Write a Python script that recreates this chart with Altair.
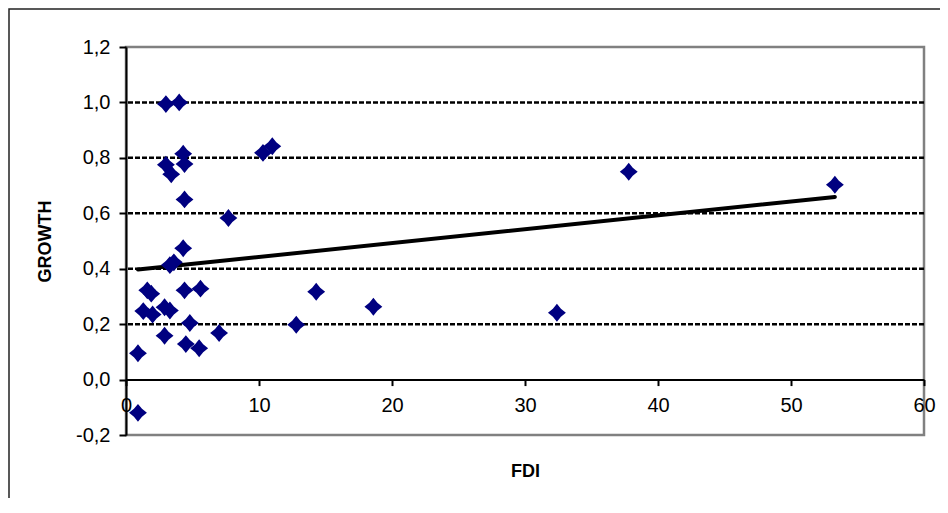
import altair as alt
import pandas as pd

# Data
fdi = [0.9, 0.9, 1.3, 1.6, 1.9, 2.0, 2.9, 3.0, 3.0, 2.9, 3.3, 3.4, 3.3, 3.6,
       4.0, 4.3, 4.4, 4.4, 4.3, 4.4, 4.8, 4.5, 5.5, 5.6, 7.0, 7.7, 10.3, 11.0,
       12.8, 14.3, 18.6, 32.4, 37.8, 53.3]
growth = [-0.12, 0.095, 0.247, 0.322, 0.31, 0.235, 0.158, 0.994, 0.775, 0.261,
          0.249, 0.741, 0.413, 0.423, 1.0, 0.815, 0.778, 0.65, 0.474, 0.322,
          0.204, 0.128, 0.113, 0.328, 0.168, 0.583, 0.818, 0.842, 0.198, 0.317,
          0.263, 0.241, 0.75, 0.703]
trend_x = [0.9, 53.3]
trend_y = [0.397, 0.659]
grid_values = [0.2, 0.4, 0.6, 0.8, 1.0]
y_ticks = [-0.2, 0.0, 0.2, 0.4, 0.6, 0.8, 1.0, 1.2]
x_ticks = [0, 10, 20, 30, 40, 50, 60]

pts = pd.DataFrame({"FDI": fdi, "GROWTH": growth})
trend = pd.DataFrame({"FDI": trend_x, "GROWTH": trend_y})
grid = pd.DataFrame({"GROWTH": grid_values})
one = pd.DataFrame({"a": [0]})

FONT = "Liberation Sans"
xscale = alt.Scale(domain=[0, 60], nice=False, zero=False)
yscale = alt.Scale(domain=[-0.2, 1.2], nice=False, zero=False)

x_axis = alt.Axis(
    values=x_ticks, format="d", offset=-55.43, grid=False,
    domainColor="black", domainWidth=2,
    tickColor="black", tickWidth=2, tickSize=6,
    labelFont=FONT, labelFontSize=20, labelColor="black",
    labelPadding=10, labelFlush=False, labelOverlap=False,
    titleFont=FONT, titleFontSize=18, titleFontWeight="bold",
    titleColor="black", titleY=83, titleBaseline="top",
)
y_axis = alt.Axis(
    values=y_ticks, grid=False,
    labelExpr="replace(replace(format(datum.value, '.1f'), '.', ','), '\u2212', '-')",
    domainColor="black", domainWidth=2,
    tickColor="black", tickWidth=2, tickSize=7,
    labelFont=FONT, labelFontSize=20, labelColor="black",
    labelPadding=9, labelOverlap=False, labelFlush=False,
    titleFont=FONT, titleFontSize=18, titleFontWeight="bold",
    titleColor="black", titleX=-72, titleY=194,
)

border = alt.Chart(one).mark_rect(
    fillOpacity=0, stroke="#222222", strokeWidth=1.5
).encode(
    x=alt.value(-117), x2=alt.value(900), y=alt.value(-38), y2=alt.value(520)
)

gridlines = alt.Chart(grid).mark_rule(
    color="black", strokeWidth=2.5, strokeDash=[5, 2]
).encode(y=alt.Y("GROWTH:Q", scale=yscale, title="GROWTH", axis=y_axis))

trendline = alt.Chart(trend).mark_line(
    color="black", strokeWidth=4, strokeCap="round"
).encode(
    x=alt.X("FDI:Q", scale=xscale, title="FDI", axis=x_axis),
    y=alt.Y("GROWTH:Q", scale=yscale, title="GROWTH", axis=y_axis),
)

star = "M0,-1L0.45,-0.45L1,0L0.45,0.45L0,1L-0.45,0.45L-1,0L-0.45,-0.45Z"

points = alt.Chart(pts).mark_point(
    shape=star, filled=True, color="#000080", opacity=1, size=320
).encode(
    x=alt.X("FDI:Q", scale=xscale, title="FDI", axis=x_axis),
    y=alt.Y("GROWTH:Q", scale=yscale, title="GROWTH", axis=y_axis),
)

chart = alt.layer(border, gridlines, trendline, points).properties(
    width=798,
    height=388,
    padding={"left": 118, "top": 39, "right": 16, "bottom": 63},
    autosize=alt.AutoSizeParams(type="none"),
    background="white",
).configure_view(stroke="#808080", strokeWidth=2.5)

chart.save("out.html", embed_options={"renderer": "svg", "actions": False})
